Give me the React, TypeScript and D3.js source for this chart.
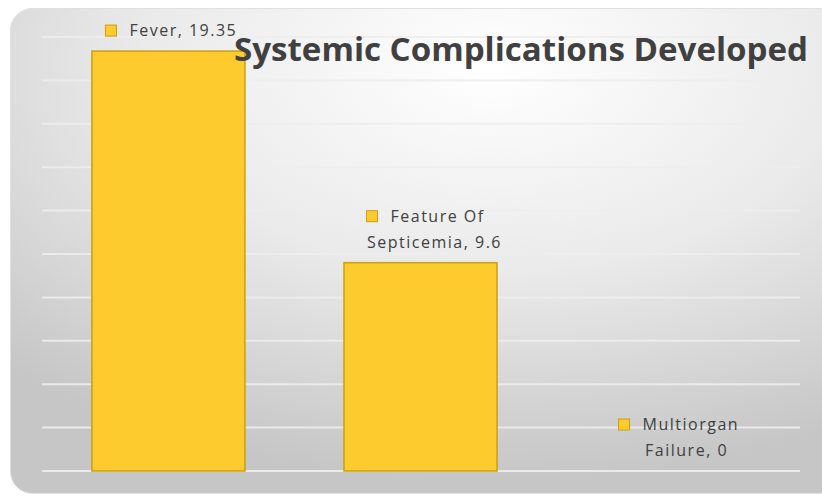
import React from "react";
import * as d3 from "d3";

const categories = ["Fever", "Feature Of Septicemia", "Multiorgan Failure"];
const values = [19.35, 9.6, 0];
const labelLines = [["Fever, 19.35"], ["Feature Of", "Septicemia, 9.6"], ["Multiorgan", "Failure, 0"]];
const yTicks = [0, 2, 4, 6, 8, 10, 12, 14, 16, 18, 20];

const W = 822;
const H = 497;
const font = "'Open Sans', 'Noto Sans', sans-serif";

export default function App() {
  const x = d3.scaleBand<string>().domain(categories).range([42.5, 798.5]).paddingInner(0.393).paddingOuter(0.196);
  const y = d3.scaleLinear().domain([0, 20]).range([471, 37]);

  return (
    <svg width={W} height={H} style={{ position: "absolute", left: 0, top: 0 }}>
      <defs>
        <radialGradient id="bg" cx="0.58" cy="0.12" r="0.85" fx="0.58" fy="0.12">
          <stop offset="0" stopColor="#ffffff" />
          <stop offset="0.5" stopColor="#eaeaea" />
          <stop offset="1" stopColor="#c6c6c6" />
        </radialGradient>
      </defs>
      <rect x={0} y={0} width={W} height={H} fill="#fff" />
      <rect x={10.5} y={8.5} width={830} height={485} rx={22} fill="url(#bg)" stroke="#e0e0e0" />
      {yTicks.map((t) => (
        <line key={t} x1={42} x2={800} y1={y(t)} y2={y(t)} stroke="#eeeeee" strokeWidth={2} opacity={0.9} />
      ))}
      {categories.map((c, i) => (
        <rect
          key={c}
          x={x(c)}
          y={y(values[i])}
          width={x.bandwidth()}
          height={Math.max(0, y(0) - y(values[i]))}
          fill="#fdcb2d"
          stroke="#c9a010"
          strokeWidth={1.5}
        />
      ))}
      <text x={234} y={61} fontFamily={font} fontWeight="bold" fontSize={33} fill="#404040"
        textLength={574} lengthAdjust="spacingAndGlyphs">
        Systemic Complications Developed
      </text>
      {categories.map((c, i) => {
        const cx = (x(c) as number) + x.bandwidth() / 2;
        const lines = labelLines[i];
        const bottom = y(values[i]) - 15 - (lines.length - 1) * 26;
        return (
          <g key={c} fontFamily={font} fontSize={16} fill="#404040" letterSpacing={1.5}>
            {lines.map((l, j) => {
              const ly = bottom + j * 26;
              if (j === 0) {
                const tw = l.length * 9;
                const sx = cx + 3 - (tw + 24) / 2;
                return (
                  <g key={j}>
                    <rect x={sx} y={ly - 11} width={11} height={11} fill="#fdcb2d" stroke="#c9a010" />
                    <text x={sx + 24} y={ly}>{l}</text>
                  </g>
                );
              }
              return (
                <text key={j} x={cx + 14} y={ly} textAnchor="middle">{l}</text>
              );
            })}
          </g>
        );
      })}
    </svg>
  );
}
